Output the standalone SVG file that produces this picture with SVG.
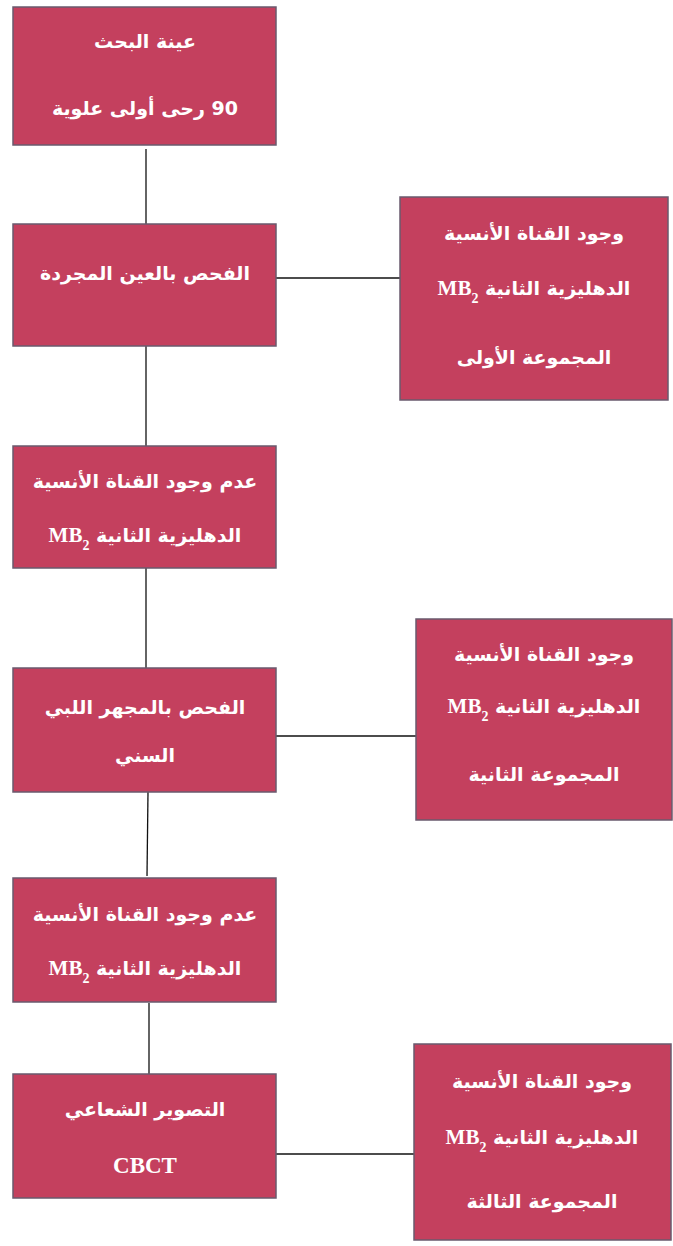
<svg xmlns="http://www.w3.org/2000/svg" width="673" height="1246" viewBox="0 0 673 1246">
<style>
.box{fill:#C4405E;stroke:#6a5a6e;stroke-width:1.5}
.t{fill:#ffffff;font-family:"DejaVu Sans","Noto Sans",sans-serif;font-weight:bold;font-size:19px;text-anchor:middle;direction:rtl}
.mb{font-family:"Liberation Serif",serif;font-size:21px;font-weight:bold}
.cb{font-family:"Liberation Serif",serif;font-size:23px;font-weight:bold}
.sub{font-size:14px}
.c{stroke:#111111;stroke-width:1.3;fill:none}
</style>
<rect width="673" height="1246" fill="#ffffff"/>
<g id="connectors">
<line class="c" x1="146" y1="149" x2="146" y2="224"/>
<line class="c" x1="276" y1="278" x2="400" y2="278"/>
<line class="c" x1="146" y1="346" x2="146" y2="446"/>
<line class="c" x1="146" y1="568" x2="146" y2="668"/>
<line class="c" x1="276" y1="736" x2="416" y2="736"/>
<line class="c" x1="148" y1="792" x2="147" y2="876"/>
<line class="c" x1="149" y1="1003" x2="149" y2="1074"/>
<line class="c" x1="276" y1="1154" x2="414" y2="1154"/>
</g>
<g id="n1">
<rect class="box" x="13" y="7" width="263" height="138"/>
<text class="t" x="145" y="48">عينة البحث</text>
<text class="t" x="145" y="115">90 رحى أولى علوية</text>
</g>
<g id="n2">
<rect class="box" x="13" y="224" width="263" height="122"/>
<text class="t" x="145" y="280">الفحص بالعين المجردة</text>
</g>
<g id="n3">
<rect class="box" x="400" y="197" width="268" height="203"/>
<text class="t" x="534" y="240">وجود القناة الأنسية</text>
<text class="t" x="534" y="295">الدهليزية الثانية <tspan class="mb">MB<tspan class="sub" baseline-shift="sub">2</tspan></tspan></text>
<text class="t" x="534" y="364">المجموعة الأولى</text>
</g>
<g id="n4">
<rect class="box" x="13" y="446" width="263" height="122"/>
<text class="t" x="145" y="488">عدم وجود القناة الأنسية</text>
<text class="t" x="145" y="542">الدهليزية الثانية <tspan class="mb">MB<tspan class="sub" baseline-shift="sub">2</tspan></tspan></text>
</g>
<g id="n5">
<rect class="box" x="13" y="668" width="263" height="124"/>
<text class="t" x="145" y="714">الفحص بالمجهر اللبي</text>
<text class="t" x="145" y="762">السني</text>
</g>
<g id="n6">
<rect class="box" x="416" y="619" width="256" height="201"/>
<text class="t" x="544" y="661">وجود القناة الأنسية</text>
<text class="t" x="544" y="713">الدهليزية الثانية <tspan class="mb">MB<tspan class="sub" baseline-shift="sub">2</tspan></tspan></text>
<text class="t" x="544" y="781">المجموعة الثانية</text>
</g>
<g id="n7">
<rect class="box" x="13" y="878" width="263" height="124"/>
<text class="t" x="145" y="921">عدم وجود القناة الأنسية</text>
<text class="t" x="145" y="975">الدهليزية الثانية <tspan class="mb">MB<tspan class="sub" baseline-shift="sub">2</tspan></tspan></text>
</g>
<g id="n8">
<rect class="box" x="13" y="1074" width="263" height="124"/>
<text class="t" x="145" y="1116">التصوير الشعاعي</text>
<text class="t" x="145" y="1173"><tspan class="cb">CBCT</tspan></text>
</g>
<g id="n9">
<rect class="box" x="414" y="1044" width="257" height="196"/>
<text class="t" x="542" y="1088">وجود القناة الأنسية</text>
<text class="t" x="542" y="1144">الدهليزية الثانية <tspan class="mb">MB<tspan class="sub" baseline-shift="sub">2</tspan></tspan></text>
<text class="t" x="542" y="1208">المجموعة الثالثة</text>
</g>
</svg>
